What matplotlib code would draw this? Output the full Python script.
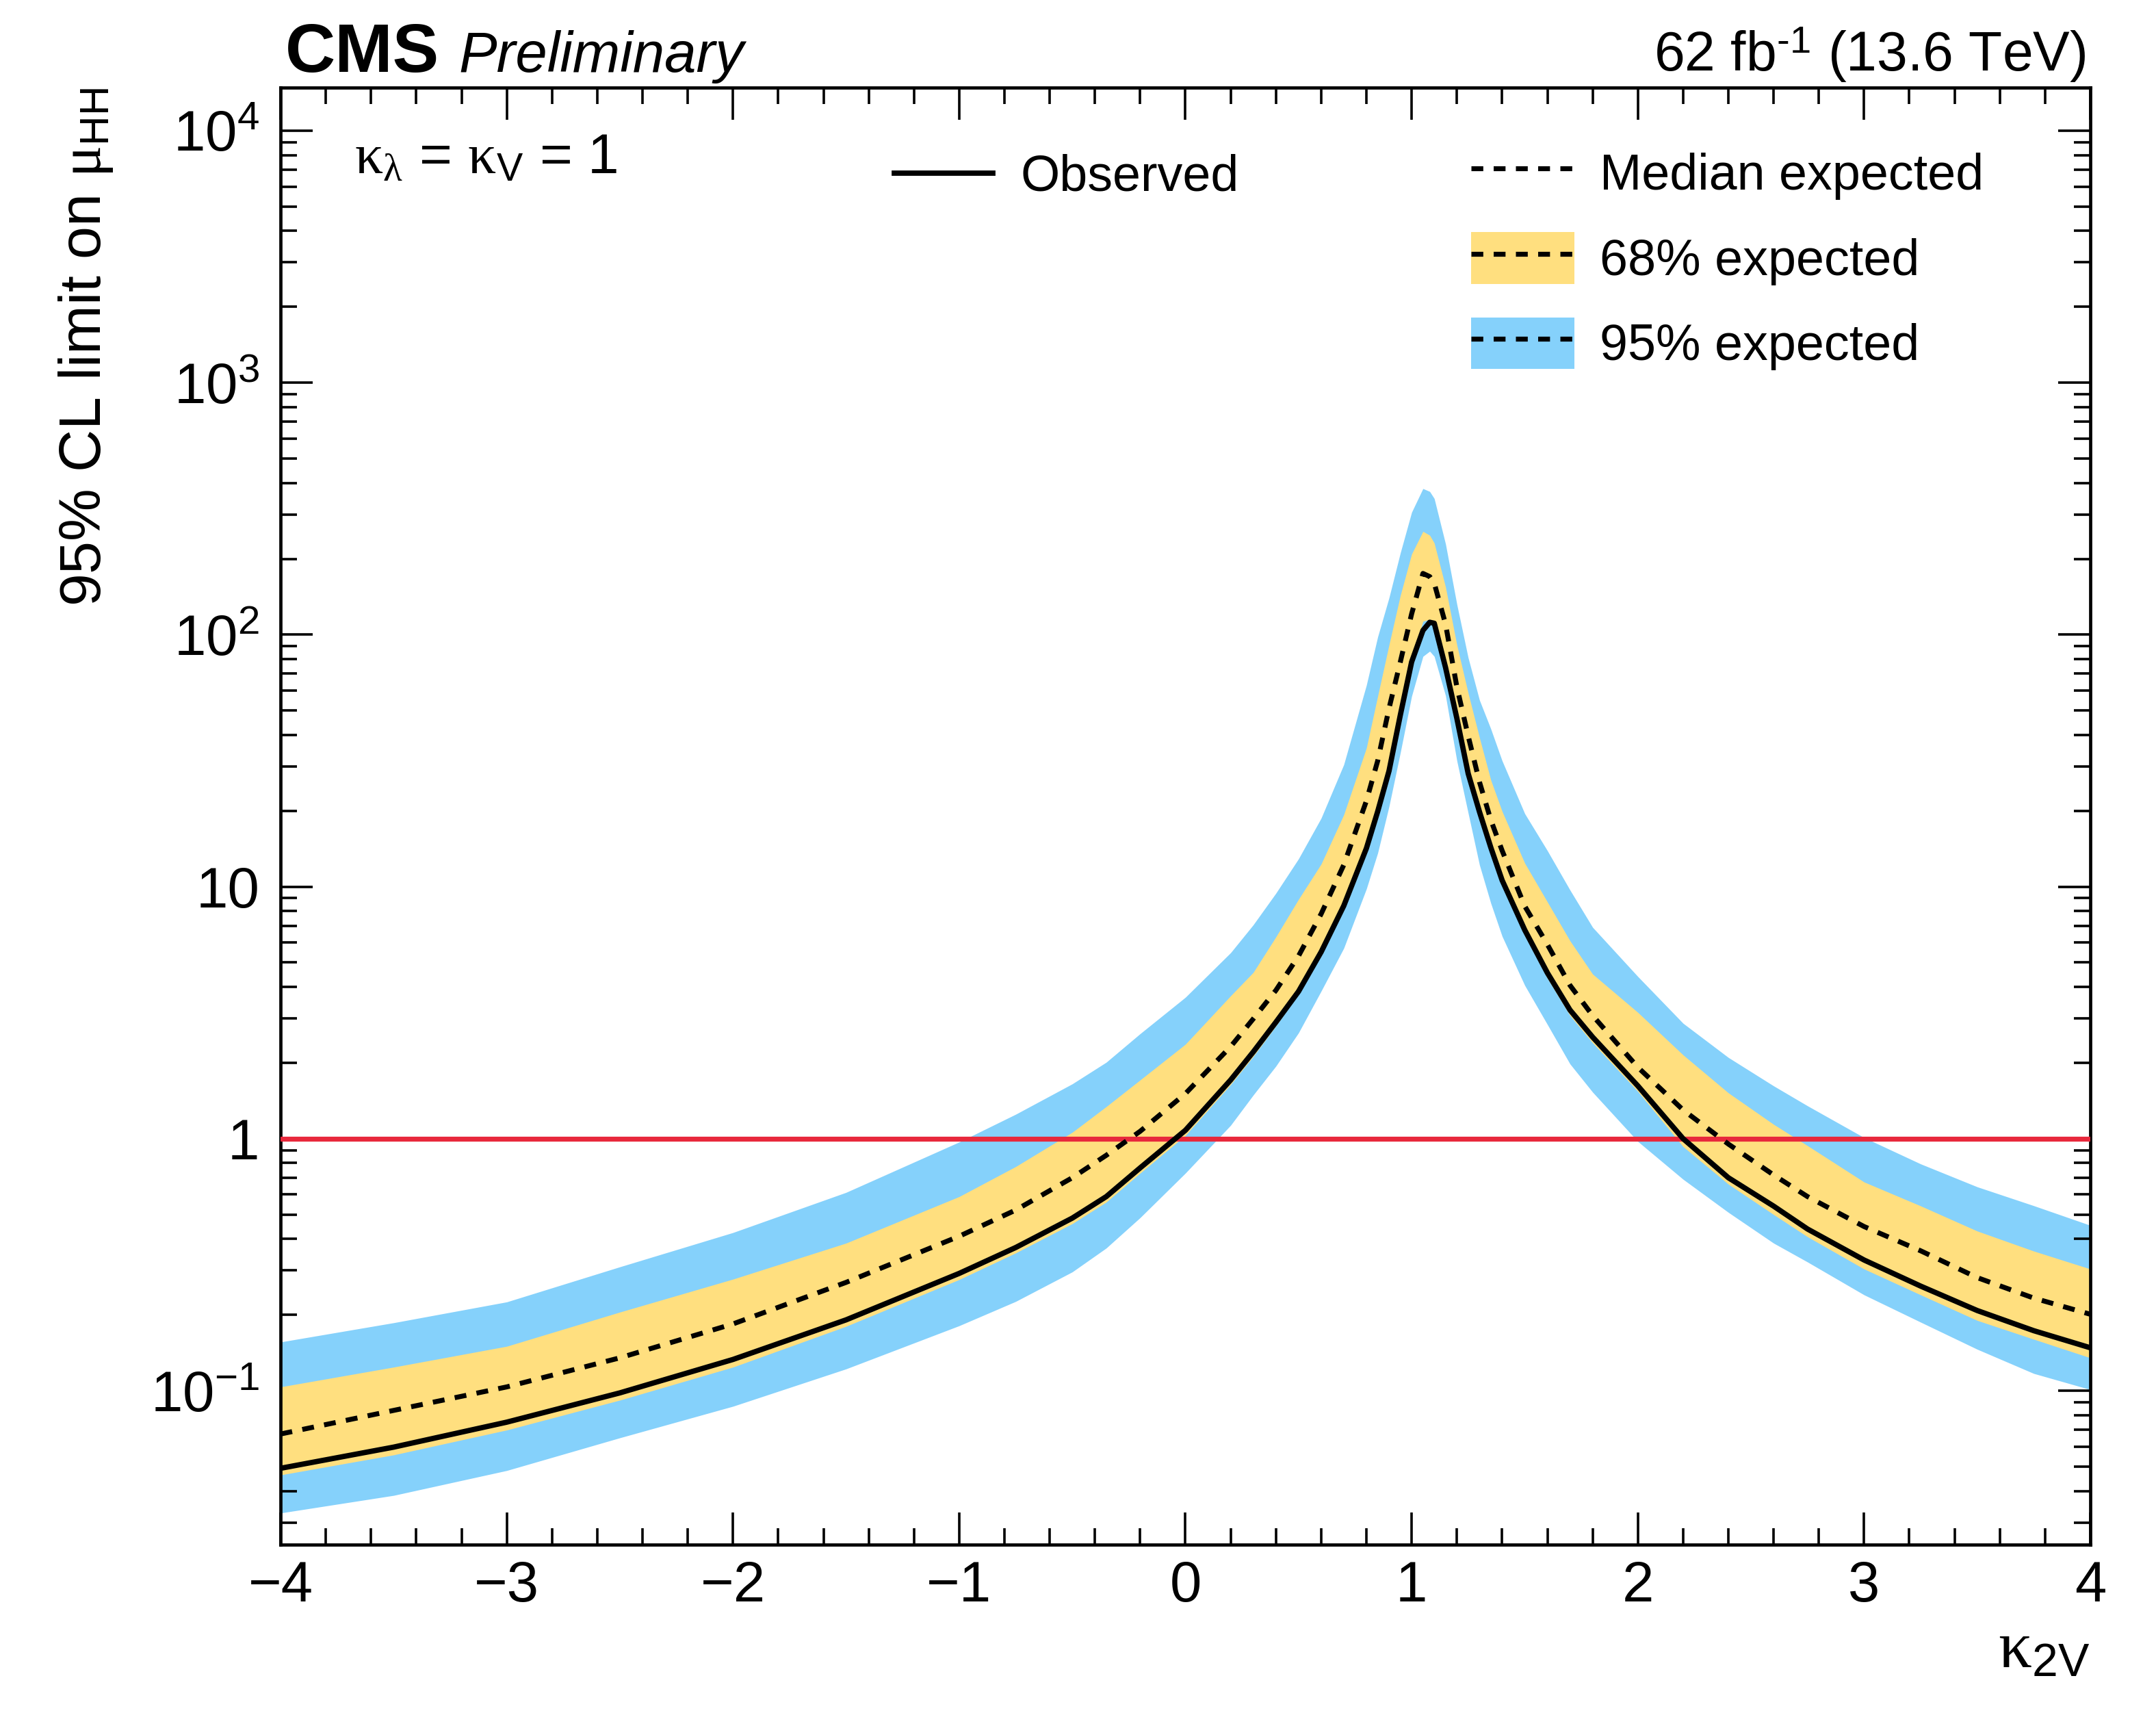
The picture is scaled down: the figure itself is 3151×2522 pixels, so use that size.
import numpy as np
import matplotlib
matplotlib.use("Agg")
import matplotlib.pyplot as plt
from matplotlib.lines import Line2D
from matplotlib.patches import Patch
from matplotlib.ticker import FixedLocator, FixedFormatter, LogLocator, MultipleLocator, NullFormatter

# ---------------- data ----------------
k2v = [-4.0, -3.5, -3.0, -2.5, -2.0, -1.5, -1.0, -0.75, -0.5, -0.35, -0.2, 0.0,
       0.2, 0.3, 0.4, 0.5, 0.6, 0.7, 0.8, 0.85, 0.9, 0.95,
       1.0, 1.05, 1.08, 1.1, 1.15, 1.2, 1.25, 1.3, 1.35, 1.4,
       1.5, 1.6, 1.7, 1.8, 2.0, 2.2, 2.4, 2.6, 2.75, 3.0,
       3.25, 3.5, 3.75, 4.0]

observed = [0.0492, 0.0597, 0.0750, 0.098, 0.133, 0.191, 0.292, 0.370, 0.484, 0.589, 0.766, 1.08,
            1.71, 2.21, 2.9, 3.84, 5.51, 8.4, 14.2, 19.9, 28.8, 48.0,
            78.0, 104.0, 112.0, 111.0, 74.0, 46.5, 28.1, 19.8, 14.3, 10.6,
            6.73, 4.55, 3.24, 2.53, 1.62, 1.0, 0.70, 0.54, 0.438, 0.330,
            0.260, 0.208, 0.173, 0.148]

expected = [0.0673, 0.0835, 0.1035, 0.135, 0.184, 0.269, 0.410, 0.521, 0.70, 0.859, 1.07, 1.51,
            2.32, 2.99, 3.88, 5.31, 7.80, 12.2, 21.9, 31.6, 51.0, 78.0,
            121.0, 175.0, 170.0, 160.0, 110.0, 62.0, 39.6, 26.0, 18.4, 13.9,
            8.37, 5.9, 4.06, 3.08, 1.92, 1.30, 0.952, 0.718, 0.589, 0.448,
            0.359, 0.281, 0.233, 0.201]

band68_up = [0.1035, 0.124, 0.150, 0.205, 0.277, 0.385, 0.589, 0.775, 1.06, 1.34, 1.71, 2.37,
             3.69, 4.57, 6.32, 8.91, 12.3, 19.3, 35.5, 57.0, 91.0, 143.0,
             209.0, 257.0, 248.0, 231.0, 154.5, 91.0, 58.6, 39.0, 26.5, 19.9,
             12.4, 8.7, 6.1, 4.5, 3.17, 2.15, 1.52, 1.14, 0.938, 0.673,
             0.541, 0.430, 0.358, 0.304]

band68_dn = [0.0463, 0.0556, 0.0698, 0.0917, 0.124, 0.180, 0.276, 0.352, 0.46, 0.56, 0.73, 1.03,
             1.64, 2.12, 2.8, 3.75, 5.37, 8.2, 13.8, 19.5, 28.5, 48.5,
             80.0, 113.0, 115.0, 110.0, 72.0, 44.0, 26.5, 18.8, 13.6, 10.1,
             6.4, 4.33, 3.08, 2.40, 1.54, 0.93, 0.66, 0.50, 0.408, 0.304,
             0.240, 0.190, 0.160, 0.135]

band95_up = [0.156, 0.186, 0.225, 0.310, 0.424, 0.612, 0.97, 1.25, 1.65, 2.01, 2.61, 3.64,
             5.47, 7.06, 9.42, 12.9, 18.7, 30.5, 63.0, 98.0, 140.0, 211.0,
             306.0, 380.0, 370.0, 347.0, 229.0, 132.0, 81.0, 55.0, 42.3, 31.6,
             19.5, 13.9, 9.7, 6.9, 4.4, 2.87, 2.10, 1.62, 1.35, 1.01,
             0.794, 0.644, 0.542, 0.453]

band95_dn = [0.0327, 0.0384, 0.0482, 0.065, 0.0867, 0.122, 0.181, 0.226, 0.296, 0.368, 0.486, 0.73,
             1.13, 1.49, 1.94, 2.63, 3.85, 5.7, 9.8, 13.6, 20.8, 34.0,
             57.0, 82.0, 86.0, 82.0, 57.3, 31.6, 19.6, 12.2, 8.6, 6.36,
             4.06, 2.84, 1.98, 1.53, 0.975, 0.69, 0.51, 0.385, 0.324, 0.240,
             0.187, 0.146, 0.117, 0.101]

ytick_vals = [0.1, 1, 10, 100, 1000, 10000]
ytick_labels = [r'$\mathsf{10^{-1}}$', '1', '10', r'$\mathsf{10^{2}}$', r'$\mathsf{10^{3}}$', r'$\mathsf{10^{4}}$']
xtick_vals = [-4, -3, -2, -1, 0, 1, 2, 3, 4]
xtick_labels = ['\u22124', '\u22123', '\u22122', '\u22121', '0', '1', '2', '3', '4']

# ---------------- style ----------------
plt.rcParams['font.family'] = ['Liberation Sans', 'DejaVu Sans']
plt.rcParams['mathtext.fontset'] = 'custom'
plt.rcParams['mathtext.rm'] = 'Liberation Serif'
plt.rcParams['mathtext.sf'] = 'Liberation Sans'
plt.rcParams['mathtext.it'] = 'Liberation Serif:italic'
plt.rcParams['mathtext.bf'] = 'Liberation Sans:bold'
plt.rcParams['mathtext.default'] = 'rm'

C95 = '#85D1FB'
C68 = '#FFDF7F'
CRED = '#E8283C'

W, H, DPI = 3151, 2522, 200
fig = plt.figure(figsize=(W / DPI, H / DPI), dpi=DPI)
L, R, T, B = 410, 3055, 128, 2257
ax = fig.add_axes([L / W, 1 - B / H, (R - L) / W, (B - T) / H])

x = np.array(k2v)
ax.fill_between(x, band95_dn, band95_up, color=C95, lw=0, zorder=1)
ax.fill_between(x, band68_dn, band68_up, color=C68, lw=0, zorder=2)
ax.axhline(1.0, color=CRED, lw=2.6, zorder=3)
ax.plot(x, expected, color='black', lw=2.6, ls=(0, (2.4, 2.1)), zorder=4)
ax.plot(x, observed, color='black', lw=2.8, ls='-', zorder=5)

ax.set_yscale('log')
ax.set_xlim(-4, 4)
ax.set_ylim(10 ** -1.611, 10 ** 4.171)

ax.xaxis.set_major_locator(FixedLocator(xtick_vals))
ax.xaxis.set_major_formatter(FixedFormatter(xtick_labels))
ax.xaxis.set_minor_locator(MultipleLocator(0.2))
ax.yaxis.set_major_locator(FixedLocator(ytick_vals))
ax.yaxis.set_major_formatter(FixedFormatter(ytick_labels))
ax.yaxis.set_minor_locator(LogLocator(base=10, subs=np.arange(2, 10), numticks=20))
ax.yaxis.set_minor_formatter(NullFormatter())

ax.tick_params(which='both', direction='in', top=True, right=True, width=1.3, color='black')
ax.tick_params(which='major', length=17)
ax.tick_params(which='minor', length=8.6)
ax.tick_params(axis='x', which='major', labelsize=30, pad=8)
ax.tick_params(axis='y', which='major', labelsize=30, pad=11)
for s in ax.spines.values():
    s.set_linewidth(1.7)

# axis labels
fig.text(147 / W, 1 - 128 / H, r'95% CL limit on $\mu_{\mathsf{HH}}$', rotation=90,
         rotation_mode='anchor', ha='right', va='baseline', fontsize=31)
fig.text(R / W, 1 - 2436 / H, r'$\kappa_{\mathsf{2V}}$', ha='right', va='baseline', fontsize=35)

# header texts
fig.text(417 / W, 1 - 105 / H, 'CMS', fontweight='bold', fontsize=36.5, ha='left', va='baseline')
fig.text(670 / W, 1 - 105 / H, 'Preliminary', fontstyle='italic', fontsize=30, ha='left', va='baseline')
fig.text(3048 / W, 1 - 104 / H, '62 fb$^{\\mathsf{\u2010' + '1}}$ (13.6 TeV)', fontsize=29, ha='right', va='baseline')

# in-plot annotation
ax.text((518 - L) / (R - L), (B - 254) / (B - T), r'$\kappa_{\lambda}$ = $\kappa_{\mathsf{V}}$ = 1',
        transform=ax.transAxes, fontsize=29.5, ha='left', va='baseline')

# legends
dash = (0, (2.4, 2.1))
h_obs = Line2D([], [], color='black', lw=2.8)
h_med = Line2D([], [], color='black', lw=2.6, ls=dash)
h_68 = (Patch(facecolor=C68, edgecolor='none'), Line2D([], [], color='black', lw=2.6, ls=dash))
h_95 = (Patch(facecolor=C95, edgecolor='none'), Line2D([], [], color='black', lw=2.6, ls=dash))

leg1 = ax.legend([h_obs], ['Observed'], loc='center left',
                 bbox_to_anchor=((1307 - L) / (R - L), (B - 259) / (B - T)),
                 frameon=False, fontsize=26.5, borderpad=0, borderaxespad=0,
                 handlelength=1.95, handletextpad=0.55)
ax.add_artist(leg1)
ax.legend([h_med, h_68, h_95], ['Median expected', '68% expected', '95% expected'],
          loc='center left', bbox_to_anchor=((2150 - L) / (R - L), (B - 378) / (B - T)),
          frameon=False, fontsize=26.5, borderpad=0, borderaxespad=0,
          handlelength=2.05, handleheight=1.2, handletextpad=0.5, labelspacing=0.64)

fig.savefig('out.png', dpi=DPI)
